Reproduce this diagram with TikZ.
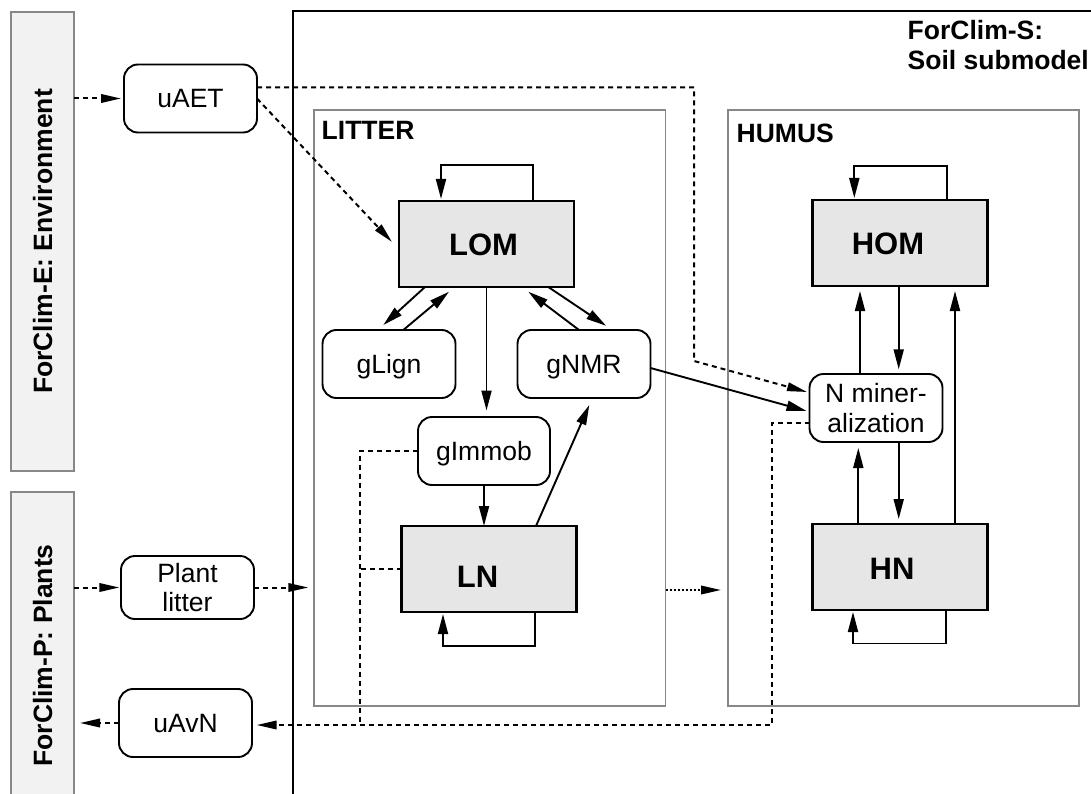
\documentclass[tikz,border=0pt]{standalone}
\usepackage{fontspec}
\setmainfont{Liberation Sans}
\usetikzlibrary{arrows.meta}
\definecolor{boxgray}{HTML}{888888}
\definecolor{envfill}{HTML}{F2F2F2}
\definecolor{statefill}{HTML}{E6E6E6}
\begin{document}
\begin{tikzpicture}[x=1pt,y=-1pt,
  every node/.style={inner sep=0pt, outer sep=0pt},
  side/.style={draw=boxgray, fill=envfill, line width=1.8pt},
  group/.style={draw=boxgray, line width=1.8pt},
  state/.style={draw, fill=statefill, line width=2.1pt, minimum width=175pt, minimum height=86pt},
  aux/.style={draw, rounded corners=14pt, line width=1.9pt, minimum width=133pt, minimum height=68pt, fill=white},
  one/.style={text height=19pt, text depth=0pt},
  rtxt/.style={font=\fontsize{26.5}{29.5}\selectfont},
  btxt/.style={font=\fontsize{26.5}{30}\selectfont\bfseries},
  stxt/.style={font=\fontsize{31}{34}\selectfont\bfseries, text height=22.3pt, text depth=0pt},
  flow/.style={line width=1.9pt, -{Triangle[length=20pt,width=10pt]}},
  info/.style={line width=2pt, dash pattern=on 5pt off 4pt, -{Triangle[length=20pt,width=8.5pt]}},
  infoline/.style={line width=2pt, dash pattern=on 5pt off 4pt},
  dotflow/.style={line width=2pt, dash pattern=on 2pt off 2pt, -{Triangle[length=20pt,width=8.5pt]}}
]
\useasboundingbox (0,0) rectangle (1091,794);
\clip (0,0) rectangle (1091,794);

% outer submodel boxes
\node[side, minimum width=63pt, minimum height=459pt] (env) at (42.5,241.5) {};
\node[btxt, one, rotate=90] (envlbl) at (42.5,241.5) {ForClim-E: Environment};
\node[side, minimum width=63pt, minimum height=320pt] (pla) at (42.5,652) {};
\node[btxt, one, rotate=90] (plalbl) at (42.5,655.5) {ForClim-P: Plants};

\draw[line width=2.2pt] (292.7,830) -- (292.7,10.7) -- (1120,10.7);
\node[btxt, anchor=north west, align=left] (title) at (907.7,20.7) {ForClim-S:\\Soil submodel};

% compartments
\node[group, minimum width=351.5pt, minimum height=596pt] (litter) at (489.75,408) {};
\node[group, minimum width=351pt, minimum height=596pt] (humus) at (903.5,408) {};
\node[btxt, anchor=base west] (littxt) at (321.7,140) {LITTER};
\node[btxt, anchor=base west] (humtxt) at (736.7,142.5) {HUMUS};

% state variables
\node[state, label={[stxt, xshift=-3pt]center:LOM}] (LOM) at (486.5,244) {};
\node[state, label={[stxt, xshift=-11.5pt, yshift=-7pt]center:LN}] (LN) at (489,569) {};
\node[state, label={[stxt, xshift=-12pt]center:HOM}] (HOM) at (900,243) {};
\node[state, label={[stxt, xshift=-8pt, yshift=-1pt]center:HN}] (HN) at (900,567) {};

% auxiliary nodes
\node[aux, rtxt, one] (uAET) at (190.5,98.5) {uAET};
\node[aux, rtxt, minimum height=63pt, align=center] (plit) at (187.5,587.5) {Plant\\litter};
\node[aux, rtxt, one] (uAvN) at (185.5,723) {uAvN};
\node[aux, rtxt, one] (gLign) at (389,364) {gLign};
\node[aux, rtxt, one] (gNMR) at (584,364) {gNMR};
\node[aux, rtxt, one, minimum width=132pt] (gImmob) at (484,451) {gImmob};
\node[aux, rtxt, align=center] (Nmin) at (876,408) {N miner-\\alization};

% bend points
\coordinate (b1) at (694,87.5);
\coordinate (b2) at (694,361);
\coordinate (c1) at (772,422.7);
\coordinate (c2) at (772,725);
\coordinate (d1) at (359.5,451);
\coordinate (d2) at (359.5,725);

% information links
\draw[info, shorten >=3pt] (env.east |- uAET.west) -- (uAET.west);
\draw[info] (uAET.east) -- ([xshift=-7pt,yshift=2pt]LOM.west);
\draw[info] ([yshift=11pt]uAET.east) -- (b1) -- (b2) -- ([xshift=-2.5pt,yshift=16pt]Nmin.west);
\draw[info] ([yshift=-14.7pt]Nmin.west) -- (c1) -- (c2) -- ([xshift=4.7pt,yshift=-2pt]uAvN.east);
\draw[infoline] (gImmob.west) -- (d1) -- (d2);
\draw[infoline] (LN.west) -- (LN.west -| d1);
\draw[info, shorten >=1.7pt] (pla.east |- plit.west) -- (plit.west);
\draw[info, shorten >=5.7pt] (plit.east) -- (plit.east -| litter.west);
\draw[info, shorten >=6pt] (uAvN.west) -- (uAvN.west -| pla.east);
\draw[dotflow, shorten >=7pt] ([yshift=-182pt]litter.east) -- ([yshift=-182pt]humus.west);

% material flows
\draw[flow] ([yshift=-4pt]gNMR.east) -- ([xshift=-3pt,yshift=-3pt]Nmin.west);
\draw[flow, shorten >=2pt] ([xshift=46.8pt]LOM.north) -- ++(0,-36) -| ([xshift=-45.5pt]LOM.north);
\draw[flow, shorten >=2pt] ([xshift=46pt]LN.south) -- ++(0,34) -| ([xshift=-46pt]LN.south);
\draw[flow, shorten >=2pt] ([xshift=46.7pt]HOM.north) -- ++(0,-34.3) -| ([xshift=-45.7pt]HOM.north);
\draw[flow, shorten >=2pt] ([xshift=45.7pt]HN.south) -- ++(0,33.5) -| ([xshift=-47pt]HN.south);

\draw[flow] ([xshift=-61.5pt]LOM.south) -- ([xshift=-5.7pt,yshift=5pt]gLign.north);
\draw[flow] ([xshift=14.3pt]gLign.north) -- ([xshift=-37.5pt,yshift=-4.7pt]LOM.south);
\draw[flow] ([xshift=61.8pt]LOM.south) -- ([xshift=22pt,yshift=4.3pt]gNMR.north);
\draw[flow] ([xshift=-5pt]gNMR.north) -- ([xshift=41.8pt,yshift=-4.7pt]LOM.south);
\draw[flow, shorten >=6.5pt] (LOM.south) -- (LOM.south |- gImmob.north);
\draw[flow] (gImmob.south) -- (gImmob.south |- LN.north);
\draw[flow] ([xshift=47pt]LN.north) -- ([xshift=5.3pt,yshift=-7pt]gNMR.south);

\draw[flow, shorten >=5pt] ([xshift=-16pt]Nmin.north) -- ([xshift=-40pt]HOM.south);
\draw[flow, shorten >=4.7pt] ([xshift=-1.3pt]HOM.south) -- ([xshift=22.7pt]Nmin.north);
\draw[flow, shorten >=5pt] ([xshift=55pt]HN.north) -- ([xshift=55pt]HOM.south);
\draw[flow, shorten >=6pt] ([xshift=-41.7pt]HN.north) -- ([xshift=-17.7pt]Nmin.south);
\draw[flow, shorten >=5pt] ([xshift=22.7pt]Nmin.south) -- ([xshift=-1.3pt]HN.north);
\end{tikzpicture}
\end{document}
